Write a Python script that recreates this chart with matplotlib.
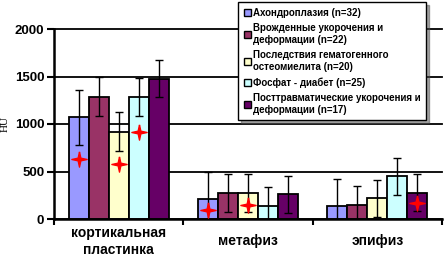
import matplotlib
matplotlib.use("Agg")
import matplotlib.pyplot as plt
import numpy as np
from matplotlib.patches import Patch

categories = ["кортикальная\nпластинка", "метафиз", "эпифиз"]
series_names = [
    "Ахондроплазия (n=32)",
    "Врожденные укорочения и\nдеформации (n=22)",
    "Последствия гематогенного\nостеомиелита (n=20)",
    "Фосфат - диабет (n=25)",
    "Посттравматические укорочения и\nдеформации (n=17)",
]
colors = ["#9999FF", "#993366", "#FFFFCC", "#CCFFFF", "#660066"]

# mean values per series (rows) for each category (columns)
means = [
    [1070, 210, 140],
    [1285, 275, 150],
    [920, 270, 220],
    [1280, 140, 450],
    [1475, 260, 275],
]
errors = [
    [290, 290, 285],
    [205, 200, 200],
    [205, 200, 195],
    [200, 200, 195],
    [195, 195, 195],
]
# red star markers (NaN = no marker)
stars = [
    [630, 95, np.nan],
    [np.nan, np.nan, np.nan],
    [580, 150, np.nan],
    [920, np.nan, np.nan],
    [np.nan, np.nan, 165],
]
yticks = [0, 500, 1000, 1500, 2000]

plt.rcParams['font.family'] = ['Liberation Sans', 'DejaVu Sans']

fig = plt.figure(figsize=(4.44, 2.59), dpi=100)
ax = fig.add_axes([54/444, 40/259, 388/444, 190/259])

x = np.arange(len(categories))
bw = 0.155
n = len(series_names)
# four-point star marker
star_verts = []
for k in range(8):
    ang = np.pi/2 + k*np.pi/4
    r = 1.0 if k % 2 == 0 else 0.25
    star_verts.append((r*np.cos(ang), r*np.sin(ang)))
star_verts.append(star_verts[0])

for i in range(n):
    pos = x + (i - (n-1)/2) * bw
    ax.bar(pos, means[i], bw, color=colors[i], edgecolor="black", linewidth=1.3, zorder=2)
    ax.errorbar(pos, means[i], yerr=errors[i], fmt="none", ecolor="black",
                elinewidth=1.0, capsize=3, capthick=1.0, zorder=3)
    ax.plot(pos, stars[i], linestyle="none", marker=star_verts, markersize=11,
            color="#FF0000", markeredgecolor="#FF0000", zorder=4)

ax.set_xlim(-0.5, 2.5)
ax.set_ylim(0, 2000)
ax.set_yticks(yticks)
ax.set_yticklabels([str(v) for v in yticks], fontsize=9.5, fontweight="bold")
ax.yaxis.grid(True, color="black", linewidth=1.3, zorder=0)
ax.set_axisbelow(True)
for gl in ax.get_ygridlines():
    gl.set_clip_on(False)

ax.set_xticks(x)
ax.set_xticklabels(categories, fontsize=10, fontweight="bold", linespacing=1.25)
for lbl in ax.get_xticklabels():
    lbl.set_va("center")
ax.tick_params(axis="x", length=0, pad=16)
ax.set_xticks([-0.5, 0.5, 1.5, 2.5], minor=True)
ax.tick_params(axis="x", which="minor", length=4, width=1.5, direction="out")
ax.tick_params(axis="y", length=5, width=1.5, direction="out", pad=2)

ax.spines["top"].set_visible(False)
ax.spines["right"].set_visible(False)
ax.spines["left"].set_linewidth(1.8)
ax.spines["bottom"].set_linewidth(1.8)

ax.set_ylabel("HU", fontsize=8, family="Liberation Serif", labelpad=4)

handles = [Patch(facecolor=c, edgecolor="black", linewidth=1.0) for c in colors]
leg = fig.legend(handles, series_names, loc="upper left",
                 bbox_to_anchor=(238/444, 1 - 2/259),
                 prop={"size": 7, "weight": "bold"},
                 frameon=True, fancybox=False, shadow=True, framealpha=1,
                 handlelength=0.7, handleheight=0.7, handletextpad=0.2,
                 labelspacing=0.55, borderpad=0.6, borderaxespad=0)
leg.get_frame().set_edgecolor("black")
leg.get_frame().set_linewidth(1.0)

fig.savefig("out.png", dpi=100)
